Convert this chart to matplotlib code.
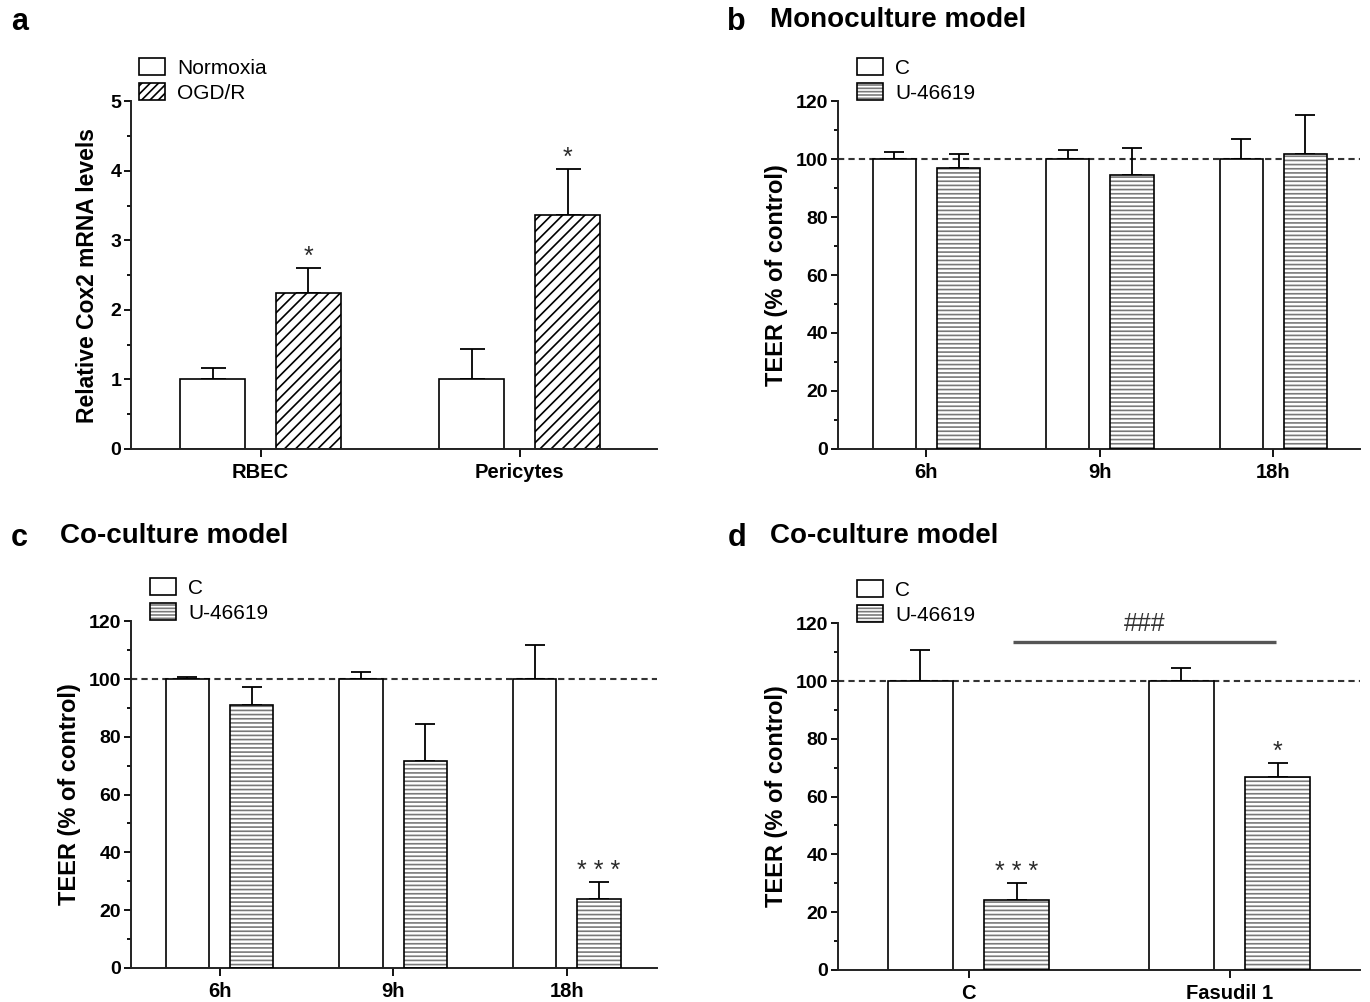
import matplotlib
matplotlib.use('Agg')
from matplotlib import pyplot as plt
from matplotlib.patches import Patch
from matplotlib.ticker import MultipleLocator
import numpy as np

plt.rcParams['font.family'] = ['Liberation Sans', 'DejaVu Sans']
plt.rcParams['hatch.linewidth'] = 1.2

# panel a: Cox2 mRNA
a_groups = ['RBEC', 'Pericytes']
a_normoxia = [1.0, 1.0]
a_normoxia_err = [0.17, 0.43]
a_ogd = [2.24, 3.36]
a_ogd_err = [0.36, 0.66]
a_ogd_stars = ['*', '*']

# panel b: monoculture TEER
b_groups = ['6h', '9h', '18h']
b_c = [100, 100, 100]
b_c_err = [2.4, 3.1, 6.9]
b_u = [97.0, 94.5, 101.7]
b_u_err = [4.7, 9.3, 13.5]

# panel c: co-culture TEER
c_groups = ['6h', '9h', '18h']
c_c = [100, 100, 100]
c_c_err = [0.7, 2.3, 11.7]
c_u = [90.9, 71.6, 23.9]
c_u_err = [6.3, 12.8, 5.8]
c_u_stars = ['', '', '* * *']

# panel d: co-culture TEER with fasudil
d_groups = ['C', 'Fasudil 1']
d_c = [100, 100]
d_c_err = [10.9, 4.5]
d_u = [24.2, 66.7]
d_u_err = [5.8, 4.9]
d_u_stars = ['* * *', '*']

GRAY = '#7a7a7a'
LW = 1.2


def style_axis(ax, groups, xlim, ylim, major, minor):
    for s in ['top', 'right']:
        ax.spines[s].set_visible(False)
    for s in ['left', 'bottom']:
        ax.spines[s].set_linewidth(1.4)
        ax.spines[s].set_color('#222222')
    ax.set_xlim(*xlim)
    ax.set_ylim(*ylim)
    ax.set_xticks(np.arange(len(groups)))
    ax.set_xticklabels(groups, fontsize=14.5, fontweight='bold')
    ax.yaxis.set_major_locator(MultipleLocator(major))
    ax.yaxis.set_minor_locator(MultipleLocator(minor))
    ax.tick_params(axis='y', which='major', length=5, width=1.3, labelsize=14, pad=2)
    ax.tick_params(axis='y', which='minor', length=3, width=1.3)
    ax.tick_params(axis='x', length=6, width=1.3, pad=4)
    for lab in ax.get_yticklabels():
        lab.set_fontweight('bold')


def stars(ax, xs, tops, labels):
    for x, t, s in zip(xs, tops, labels):
        if s:
            ax.annotate(s, (x, t), xytext=(0, 3), textcoords='offset points',
                        ha='center', va='baseline', fontsize=18, color='#2a2a2a')


def up_err(ax, xs, vals, errs, cap=7):
    ax.errorbar(xs, vals, yerr=[np.zeros(len(vals)), errs], fmt='none',
                ecolor='black', elinewidth=1.3, capsize=cap, capthick=1.3, zorder=1)


def add_legend(ax, handles, labels, x0):
    ax.legend(handles, labels, loc='lower left', bbox_to_anchor=(x0, 0.995),
              frameon=False, fontsize=15, handlelength=1.25, handleheight=0.9,
              handletextpad=0.6, labelspacing=0.25, borderaxespad=0, borderpad=0)


def teer_panel(ax, groups, cvals, cerr, uvals, uerr, xlim):
    x = np.arange(len(groups))
    off, w = 0.185, 0.25
    up_err(ax, x - off, cvals, cerr)
    up_err(ax, x + off, uvals, uerr)
    ax.bar(x - off, cvals, w, facecolor='white', edgecolor='black', linewidth=LW, zorder=2)
    ax.bar(x + off, uvals, w, facecolor='white', edgecolor=GRAY, linewidth=0, hatch='----', zorder=2)
    ax.bar(x + off, uvals, w, fill=False, edgecolor='black', linewidth=LW, zorder=3)
    ax.axhline(100, color='#333333', linestyle=(0, (3, 2)), linewidth=1.5, zorder=0)
    style_axis(ax, groups, xlim, (0, 120), 20, 10)
    ax.set_ylabel('TEER (% of control)', fontsize=17, fontweight='bold', labelpad=6)
    h1 = Patch(facecolor='white', edgecolor='black', linewidth=1.2)
    h2 = (Patch(facecolor='white', edgecolor=GRAY, linewidth=0, hatch='-----'),
          Patch(fill=False, edgecolor='black', linewidth=1.2))
    add_legend(ax, [h1, h2], ['C', 'U-46619'], 0.036)
    return x, off


fig = plt.figure(figsize=(13.7, 10.02), dpi=100)
ax_a = fig.add_axes([0.0956, 0.552, 0.384, 0.347])
ax_b = fig.add_axes([0.6117, 0.552, 0.381, 0.347])
ax_c = fig.add_axes([0.0956, 0.034, 0.384, 0.346])
ax_d = fig.add_axes([0.6117, 0.032, 0.381, 0.346])

# panel a
x = np.arange(len(a_groups))
off, w = 0.185, 0.25
up_err(ax_a, x - off, a_normoxia, a_normoxia_err, cap=9)
up_err(ax_a, x + off, a_ogd, a_ogd_err, cap=9)
ax_a.bar(x - off, a_normoxia, w, facecolor='white', edgecolor='black', linewidth=LW, zorder=2)
ax_a.bar(x + off, a_ogd, w, facecolor='white', edgecolor='black', linewidth=LW, hatch='///', zorder=2)
style_axis(ax_a, a_groups, (-0.5, 1.53), (0, 5), 1, 0.5)
ax_a.set_ylabel('Relative Cox2 mRNA levels', fontsize=16.5, fontweight='bold', labelpad=8)
stars(ax_a, x + off, np.array(a_ogd) + np.array(a_ogd_err), a_ogd_stars)
add_legend(ax_a, [Patch(facecolor='white', edgecolor='black', linewidth=1.2),
                  Patch(facecolor='white', edgecolor='black', linewidth=1.2, hatch='////')],
           ['Normoxia', 'OGD/R'], 0.015)

# panel b
teer_panel(ax_b, b_groups, b_c, b_c_err, b_u, b_u_err, (-0.51, 2.5))

# panel c
x, off = teer_panel(ax_c, c_groups, c_c, c_c_err, c_u, c_u_err, (-0.51, 2.52))
stars(ax_c, x + off, np.array(c_u) + np.array(c_u_err), c_u_stars)

# panel d
x, off = teer_panel(ax_d, d_groups, d_c, d_c_err, d_u, d_u_err, (-0.5, 1.5))
stars(ax_d, x + off, np.array(d_u) + np.array(d_u_err), d_u_stars)
ax_d.plot([x[0] + 0.17, x[1] + 0.18], [113.5, 113.5], color='#555555', linewidth=2.4,
          solid_capstyle='butt', clip_on=False)
ax_d.text((x[0] + x[1]) / 2 + 0.175, 115.5, '###', ha='center', va='bottom', fontsize=18,
          color='#333333')

# panel letters and titles
fig.text(0.008, 0.993, 'a', fontsize=22, fontweight='bold', va='top')
fig.text(0.531, 0.993, 'b', fontsize=22, fontweight='bold', va='top')
fig.text(0.562, 0.993, 'Monoculture model', fontsize=20, fontweight='bold', va='top')
fig.text(0.008, 0.478, 'c', fontsize=22, fontweight='bold', va='top')
fig.text(0.044, 0.478, 'Co-culture model', fontsize=20, fontweight='bold', va='top')
fig.text(0.531, 0.478, 'd', fontsize=22, fontweight='bold', va='top')
fig.text(0.562, 0.478, 'Co-culture model', fontsize=20, fontweight='bold', va='top')

fig.savefig('out.png', dpi=100)
